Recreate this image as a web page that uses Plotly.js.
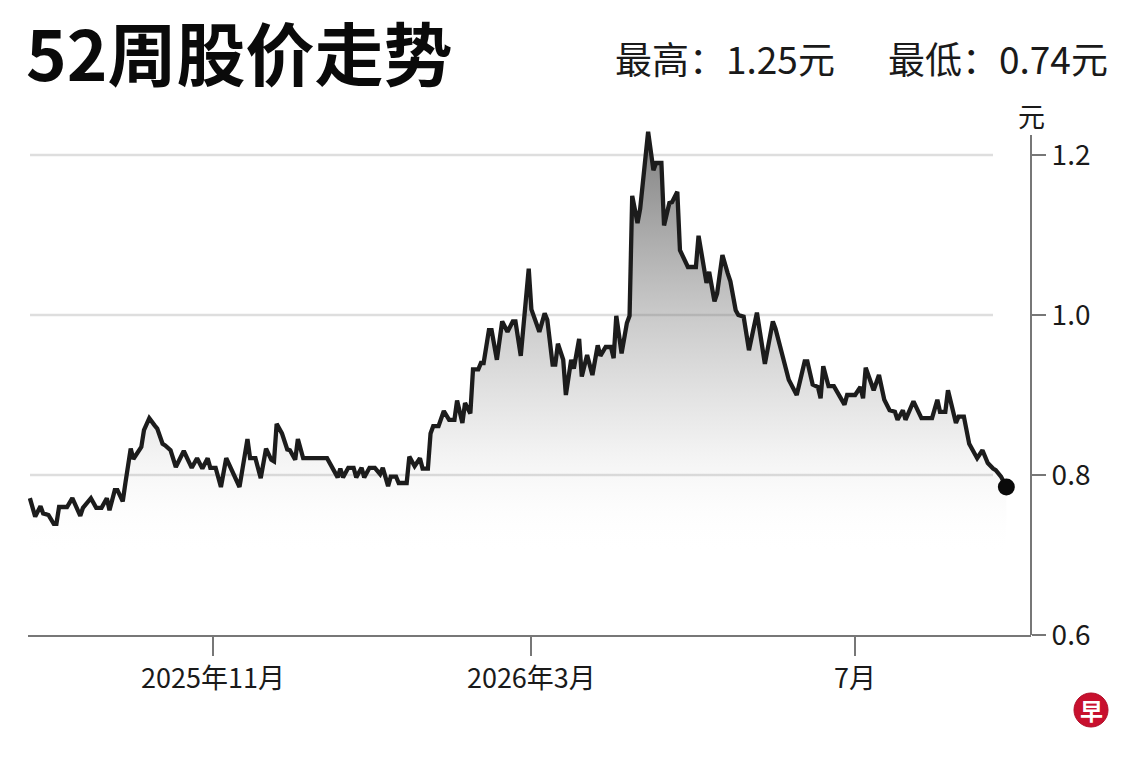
<!DOCTYPE html>
<html>
<head>
<meta charset="utf-8">
<script src="https://cdn.plot.ly/plotly-3.0.1.min.js"></script>
<style>
  html, body { margin: 0; padding: 0; background: #ffffff; }
  #chart { width: 1140px; height: 760px; }
</style>
</head>
<body>
<div id="chart"></div>
<script>
// ---------- data ----------
const dates = [
  '2025-08-24','2025-08-26','2025-08-28','2025-08-29','2025-08-31','2025-09-02','2025-09-03','2025-09-04','2025-09-07','2025-09-09',
  '2025-09-12','2025-09-13','2025-09-16','2025-09-18','2025-09-20','2025-09-22','2025-09-23','2025-09-25','2025-09-26','2025-09-28',
  '2025-09-29','2025-10-01','2025-10-02','2025-10-05','2025-10-06','2025-10-08','2025-10-10','2025-10-11','2025-10-13','2025-10-14',
  '2025-10-16','2025-10-18','2025-10-21','2025-10-24','2025-10-26','2025-10-28','2025-10-30','2025-10-31','2025-11-02','2025-11-04',
  '2025-11-06','2025-11-11','2025-11-14','2025-11-15','2025-11-17','2025-11-19','2025-11-21','2025-11-23','2025-11-24','2025-11-25',
  '2025-11-27','2025-11-29','2025-11-30','2025-12-02','2025-12-03','2025-12-05','2025-12-14','2025-12-18','2025-12-19','2025-12-20',
  '2025-12-22','2025-12-24','2025-12-25','2025-12-27','2025-12-28','2025-12-30','2026-01-01','2026-01-03','2026-01-04','2026-01-06',
  '2026-01-07','2026-01-09','2026-01-10','2026-01-13','2026-01-14','2026-01-16','2026-01-18','2026-01-19','2026-01-21','2026-01-22',
  '2026-01-23','2026-01-25','2026-01-27','2026-01-29','2026-01-31','2026-02-01','2026-02-03','2026-02-04','2026-02-06','2026-02-07',
  '2026-02-09','2026-02-10','2026-02-11','2026-02-13','2026-02-14','2026-02-16','2026-02-18','2026-02-20','2026-02-22','2026-02-23',
  '2026-02-25','2026-02-28','2026-03-01','2026-03-04','2026-03-06','2026-03-07','2026-03-09','2026-03-10','2026-03-11','2026-03-13',
  '2026-03-14','2026-03-16','2026-03-17','2026-03-19','2026-03-20','2026-03-22','2026-03-24','2026-03-26','2026-03-27','2026-03-29',
  '2026-03-31','2026-04-01','2026-04-02','2026-04-04','2026-04-06','2026-04-07','2026-04-08','2026-04-10','2026-04-11','2026-04-14',
  '2026-04-16','2026-04-17','2026-04-19','2026-04-20','2026-04-22','2026-04-23','2026-04-25','2026-04-26','2026-04-29','2026-05-02',
  '2026-05-03','2026-05-06','2026-05-07','2026-05-09','2026-05-10','2026-05-12','2026-05-14','2026-05-15','2026-05-17','2026-05-18',
  '2026-05-20','2026-05-22','2026-05-25','2026-05-28','2026-05-31','2026-06-01','2026-06-06','2026-06-09','2026-06-12','2026-06-13',
  '2026-06-15','2026-06-17','2026-06-18','2026-06-19','2026-06-21','2026-06-23','2026-06-27','2026-06-28','2026-07-01','2026-07-03',
  '2026-07-04','2026-07-05','2026-07-08','2026-07-10','2026-07-12','2026-07-14','2026-07-16','2026-07-17','2026-07-19','2026-07-20',
  '2026-07-23','2026-07-26','2026-07-30','2026-08-01','2026-08-02','2026-08-04','2026-08-05','2026-08-08','2026-08-09','2026-08-11',
  '2026-08-13','2026-08-16','2026-08-18','2026-08-20','2026-08-22','2026-08-23','2026-08-25','2026-08-27'
];
const prices = [
  0.771,0.748,0.761,0.752,0.750,0.739,0.739,0.760,0.760,0.771,
  0.749,0.759,0.771,0.759,0.759,0.771,0.756,0.781,0.781,0.767,
  0.790,0.833,0.820,0.835,0.856,0.871,0.862,0.858,0.839,0.837,
  0.831,0.810,0.830,0.809,0.821,0.808,0.821,0.809,0.809,0.785,
  0.821,0.785,0.845,0.821,0.821,0.796,0.833,0.819,0.817,0.864,
  0.852,0.832,0.831,0.819,0.845,0.821,0.821,0.797,0.808,0.797,
  0.809,0.809,0.797,0.809,0.797,0.809,0.809,0.801,0.809,0.786,
  0.798,0.798,0.790,0.790,0.823,0.811,0.821,0.808,0.808,0.852,
  0.861,0.861,0.880,0.869,0.869,0.893,0.865,0.890,0.877,0.932,
  0.932,0.940,0.940,0.981,0.981,0.944,0.992,0.979,0.992,0.992,
  0.949,1.058,1.007,0.979,1.002,0.994,0.938,0.938,0.964,0.944,
  0.900,0.944,0.933,0.970,0.923,0.950,0.925,0.962,0.949,0.960,
  0.960,0.946,0.999,0.952,0.990,0.999,1.149,1.115,1.133,1.229,
  1.181,1.190,1.190,1.112,1.140,1.141,1.154,1.081,1.060,1.060,
  1.099,1.040,1.054,1.017,1.027,1.075,1.052,1.042,1.006,1.000,
  0.998,0.956,1.003,0.939,0.992,0.983,0.919,0.900,0.942,0.942,
  0.913,0.910,0.896,0.936,0.911,0.911,0.888,0.900,0.900,0.910,
  0.896,0.934,0.906,0.925,0.894,0.881,0.879,0.869,0.881,0.869,
  0.892,0.871,0.871,0.894,0.879,0.879,0.906,0.865,0.873,0.873,
  0.839,0.821,0.831,0.815,0.808,0.806,0.798,0.785
];
const tickDates = ['2025-11-01', '2026-03-01', '2026-07-01'];
const tickLabels = ['2025年11月', '2026年3月', '7月'];
const yTicks = [0.6, 0.8, 1.0, 1.2];
const yTickLabels = ['0.6', '0.8', '1.0', '1.2'];
const gridValues = [0.8, 1.0, 1.2];
const highPrice = '1.25';
const lowPrice = '0.74';
const unitLabel = '元';
const chartTitle = '52周股价走势';

// ---------- layout helpers ----------
const W = 1140, H = 760;
const M = { l: 28, r: 109, t: 127, b: 125 };
const plotW = W - M.l - M.r, plotH = H - M.t - M.b;
const px = x => (x - M.l) / plotW;          // pixel -> paper x
const py = y => (H - M.b - y) / plotH;      // pixel -> paper y
const FONT = '"Noto Sans CJK SC", "Noto Sans", sans-serif';

const lineTrace = {
  type: 'scatter',
  mode: 'lines',
  x: dates,
  y: prices,
  line: { color: '#1c1c1c', width: 4.3, shape: 'linear' },
  fill: 'tozeroy',
  fillgradient: {
    type: 'vertical',
    start: 0.70,
    stop: 1.23,
    colorscale: [
      [0, 'rgba(255,255,255,0)'],
      [0.25, 'rgba(120,120,120,0.10)'],
      [0.55, 'rgba(110,110,110,0.35)'],
      [1, 'rgba(90,90,90,0.78)']
    ]
  },
  hoverinfo: 'skip',
  showlegend: false
};

const endTrace = {
  type: 'scatter',
  mode: 'markers',
  x: [dates[dates.length - 1]],
  y: [prices[prices.length - 1]],
  marker: { color: '#0a0a0a', size: 17 },
  cliponaxis: false,
  hoverinfo: 'skip',
  showlegend: false
};

const shapes = [];
gridValues.forEach(v => {
  shapes.push({
    type: 'line', layer: 'below',
    xref: 'paper', yref: 'y',
    x0: px(30), x1: px(993), y0: v, y1: v,
    line: { color: '#dedede', width: 2.5 }
  });
});
// right axis line (ends a little above 1.2)
shapes.push({
  type: 'line', layer: 'above',
  xref: 'paper', yref: 'y',
  x0: 1, x1: 1, y0: 0.6, y1: 1.225,
  line: { color: '#777777', width: 2 }
});
// logo circle
shapes.push({
  type: 'circle', layer: 'above',
  xref: 'paper', yref: 'paper',
  x0: px(1074), x1: px(1108), y0: py(727), y1: py(693),
  fillcolor: '#c8102e', line: { color: '#b00d28', width: 1 }
});

const annotations = [
  {
    xref: 'paper', yref: 'paper', x: px(613), y: py(58),
    xanchor: 'left', yanchor: 'middle', showarrow: false,
    text: '最高：' + highPrice + '元',
    font: { family: FONT, size: 37, color: '#1a1a1a' }
  },
  {
    xref: 'paper', yref: 'paper', x: px(1110), y: py(58),
    xanchor: 'right', yanchor: 'middle', showarrow: false,
    text: '最低：' + lowPrice + '元',
    font: { family: FONT, size: 37, color: '#1a1a1a' }
  },
  {
    xref: 'paper', yref: 'paper', x: 1, y: py(115),
    xanchor: 'center', yanchor: 'middle', showarrow: false,
    text: unitLabel,
    font: { family: FONT, size: 27, color: '#1a1a1a' }
  },
  {
    xref: 'paper', yref: 'paper', x: px(1091), y: py(710),
    xanchor: 'center', yanchor: 'middle', showarrow: false,
    text: '<b>早</b>',
    font: { family: FONT, size: 23, color: '#ffffff' }
  }
];

const layout = {
  width: W, height: H,
  margin: M,
  paper_bgcolor: '#ffffff',
  plot_bgcolor: 'rgba(0,0,0,0)',
  font: { family: FONT, color: '#1a1a1a' },
  title: {
    text: '<b>' + chartTitle + '</b>',
    xref: 'container', yref: 'container',
    x: 26 / W, xanchor: 'left',
    y: 1 - 57 / H, yanchor: 'middle',
    font: { family: FONT, size: 69, color: '#0a0a0a' }
  },
  xaxis: {
    type: 'date',
    range: ['2025-08-23 07:00', '2026-09-05 07:00'],
    showgrid: false, zeroline: false,
    showline: true, linecolor: '#777777', linewidth: 2,
    ticks: 'outside', ticklen: 19, tickwidth: 2, tickcolor: '#777777',
    tickmode: 'array', tickvals: tickDates, ticktext: tickLabels,
    tickfont: { family: FONT, size: 27, color: '#1a1a1a' },
    fixedrange: true
  },
  yaxis: {
    side: 'right',
    range: [0.6, 1.235],
    showgrid: false, zeroline: false,
    showline: false,
    ticks: 'outside', ticklen: 14, tickwidth: 2, tickcolor: '#777777',
    tickmode: 'array', tickvals: yTicks, ticktext: yTickLabels,
    tickfont: { family: FONT, size: 28, color: '#1a1a1a' },
    fixedrange: true
  },
  shapes: shapes,
  annotations: annotations,
  showlegend: false
};

Plotly.newPlot('chart', [lineTrace, endTrace], layout, { staticPlot: true, displayModeBar: false });
</script>
</body>
</html>
